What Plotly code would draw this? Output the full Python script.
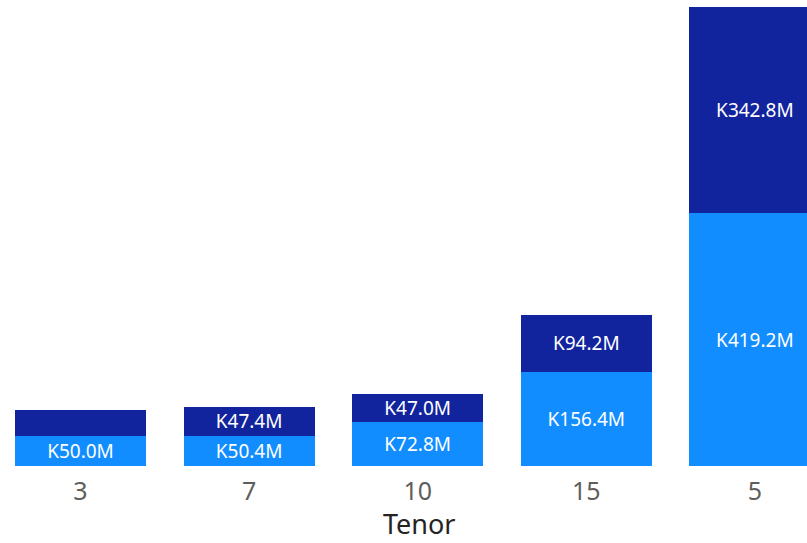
import plotly.graph_objects as go

tenors = ["3", "7", "10", "15", "5"]
bottom_values = [50.0, 50.4, 72.8, 156.4, 419.2]   # K…M, light blue series
top_values = [42.5, 47.4, 47.0, 94.2, 342.8]       # K…M, dark blue series
axis_title = "Tenor"

LIGHT = "#118DFF"
DARK = "#12239E"
FONT = "Segoe UI, Noto Sans, Open Sans, sans-serif"


def labels(vals, min_fit=45):
    return [f"K{v:.1f}M" if v >= min_fit else "" for v in vals]


fig = go.Figure()
fig.add_trace(go.Bar(
    x=tenors, y=bottom_values, name="Series 1",
    marker=dict(color=LIGHT, line=dict(width=0)),
    text=labels(bottom_values, 0), texttemplate="%{text}",
    textposition="inside", insidetextanchor="middle", textangle=0,
    insidetextfont=dict(color="white", size=19, family=FONT),
))
fig.add_trace(go.Bar(
    x=tenors, y=top_values, name="Series 2",
    marker=dict(color=DARK, line=dict(width=0)),
    text=labels(top_values), texttemplate="%{text}",
    textposition="inside", insidetextanchor="middle", textangle=0,
    insidetextfont=dict(color="white", size=19, family=FONT),
))

fig.update_layout(
    width=807, height=543,
    barmode="stack", bargap=0.223,
    margin=dict(l=0, r=0, t=0, b=77),
    plot_bgcolor="white", paper_bgcolor="white",
    showlegend=False,
    uniformtext=dict(minsize=19, mode="show"),
    xaxis=dict(
        type="category", categoryorder="array", categoryarray=tenors,
        range=[-0.4775, 4.309],
        showgrid=False, zeroline=False, showline=False, ticks="",
        tickfont=dict(size=25, color="#605E5C", family=FONT),
        ticklabelstandoff=8,
    ),
    yaxis=dict(visible=False, range=[0, 773.1], showgrid=False, zeroline=False),
    annotations=[dict(
        text=axis_title, xref="paper", yref="paper", x=0.52, y=-77 / 466,
        xanchor="center", yanchor="bottom", showarrow=False,
        borderpad=0,
        font=dict(size=27, color="#252423", family=FONT),
    )],
)

fig.write_html(
    "out.html",
    config={"displayModeBar": False, "staticPlot": True},
    post_script="document.body.style.margin='0';document.body.style.overflow='hidden';",
)
